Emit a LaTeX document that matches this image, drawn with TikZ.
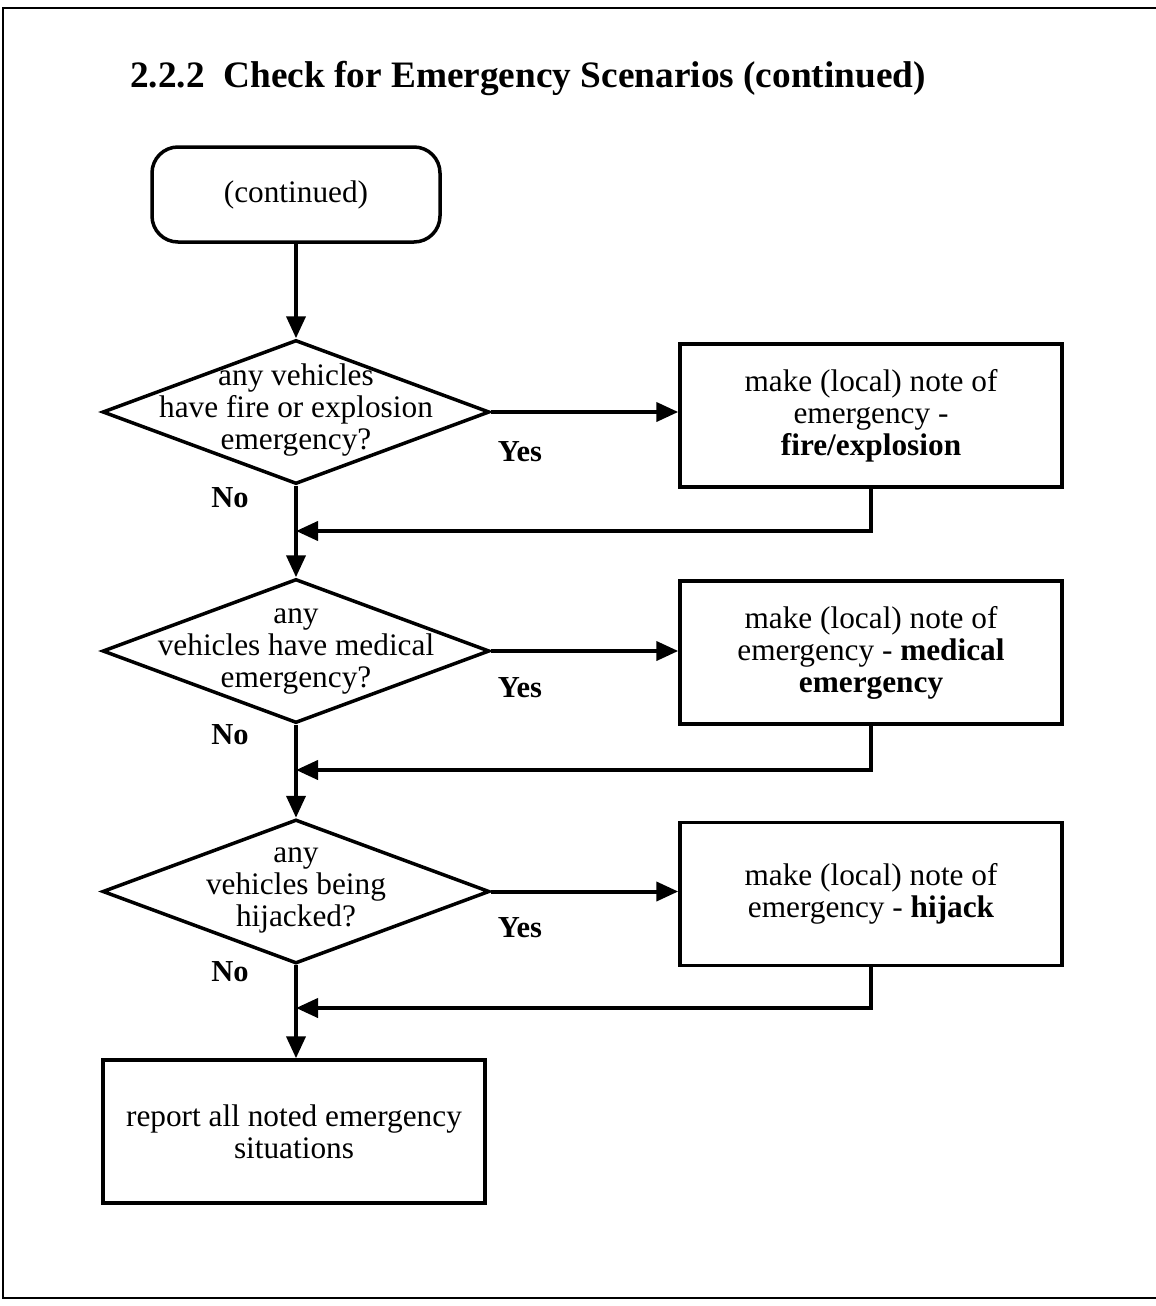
\documentclass[tikz,border=0pt]{standalone}
\usepackage{fontspec}
\setmainfont{Liberation Serif}
\usetikzlibrary{shapes.geometric,arrows.meta}
\begin{document}
\begin{tikzpicture}[x=1pt,y=-1pt,
  body/.style={font=\fontsize{31.3}{32}\selectfont, align=center, inner sep=0pt},
  proc/.style={draw, line width=3.5pt, rectangle, minimum width=382pt, minimum height=143pt, inner sep=0pt},
  startbox/.style={draw, line width=3.5pt, rectangle, rounded corners=26pt, minimum width=288pt, minimum height=95pt, inner sep=0pt},
  decision/.style={draw, line width=3.5pt, diamond, inner sep=0pt, minimum width=387pt, minimum height=144pt},
  flow/.style={line width=4pt, -{Triangle[length=22pt,width=19pt]}},
  answer/.style={font=\fontsize{30.5}{32}\selectfont\bfseries, inner sep=0pt},
  frame/.style={line width=2.5pt}
]
\useasboundingbox (0,0) rectangle (1156,1306);

% page frame
\draw[frame] (1156,8) -- (3,8) -- (3,1298) -- (1156,1298);

% heading
\node[anchor=base west, inner sep=0pt, font=\fontsize{37.3}{40}\selectfont\bfseries] (title) at (130,88)
  {2.2.2\ \ Check for Emergency Scenarios (continued)};

% shapes
\node[startbox] (start) at (296,194.5) {};
\node[body] at (start) {(continued)};

\node[decision] (d1) at (296,412) {};
\node[body] (t1) at (296,410) {any vehicles\\have fire or explosion\\emergency?};
\node[proc] (b1) at (871,415.5) {};
\node[body] at (b1) {make (local) note of\\emergency -\\\textbf{fire/explosion}};

\node[decision] (d2) at (296,651) {};
\node[body] (t2) at (296,651) {any\\vehicles have medical\\emergency?};
\node[proc] (b2) at (871,652.5) {};
\node[body] at (b2) {make (local) note of\\emergency - \textbf{medical}\\\textbf{emergency}};

\node[decision] (d3) at (296,891.5) {};
\node[body] (t3) at (296,890) {any\\vehicles being\\hijacked?};
\node[proc] (b3) at (871,894) {};
\node[body] at (b3) {make (local) note of\\emergency - \textbf{hijack}};

\node[proc] (rep) at (294,1131.5) {};
\node[body] at (rep) {report all noted emergency\\situations};

% answer labels
\node[answer] (y1) at (520,452) {Yes};
\node[answer] (n1) at (230,498) {No};
\node[answer] (y2) at (520,688) {Yes};
\node[answer] (n2) at (230,735) {No};
\node[answer] (y3) at (520,928) {Yes};
\node[answer] (n3) at (230,972) {No};

% join points on the main line
\coordinate (j1) at (296,531);
\coordinate (j2) at (296,770);
\coordinate (j3) at (296,1008);

% main line
\draw[flow] (start.south) -- (d1.north);
\draw[flow] (d1.south) -- (d2.north);
\draw[flow] (d2.south) -- (d3.north);
\draw[flow] (d3.south) -- (d3.south |- rep.north);

% yes branches
\draw[flow] (d1.east) -- (d1.east -| b1.west);
\draw[flow] (d2.east) -- (d2.east -| b2.west);
\draw[flow] (d3.east) -- (d3.east -| b3.west);

% returns
\draw[flow] (b1.south) |- (j1);
\draw[flow] (b2.south) |- (j2);
\draw[flow] (b3.south) |- (j3);
\end{tikzpicture}
\end{document}
